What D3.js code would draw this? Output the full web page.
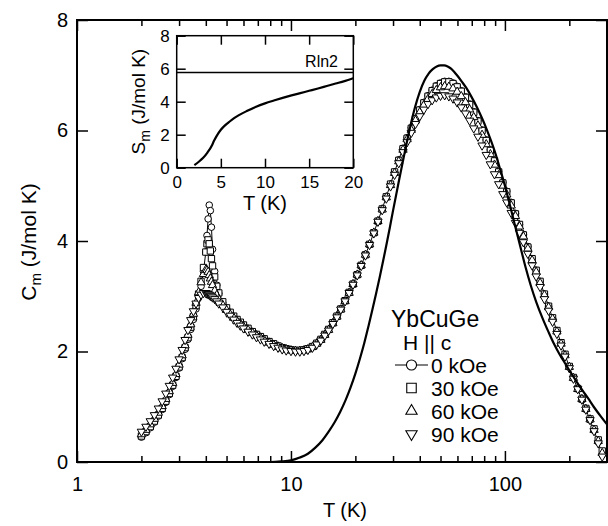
<!DOCTYPE html>
<html><head><meta charset="utf-8">
<script src="https://cdn.jsdelivr.net/npm/d3@7"></script>
<style>
body{margin:0;background:#fff}
svg{display:block}
text{font-family:"Liberation Sans",Arial,Helvetica,sans-serif;fill:#000}
</style></head><body>
<svg id="chart" width="608" height="526"></svg>
<script>
// ---------- data ----------
const T = [2.0,2.1,2.2,2.3,2.4,2.5,2.6,2.7,2.8,2.9,3.0,3.1,3.2,3.3,3.4,3.5,3.6,3.7,3.8,3.9,4.0,4.05,4.1,4.15,4.2,4.25,4.3,4.4,4.5,4.6,4.8,5.0,5.2,5.4,5.6,5.8,6.0,6.3,6.6,6.9,7.2,7.5,7.9,8.3,8.7,9.1,9.5,10,10.5,11,11.5,12,
12.6,13.2,13.8,14.4,15,15.7,16.4,17.1,17.9,18.7,19.5,20.4,21.3,22.3,23.3,24.4,25.5,26.7,27.9,29.2,30.5,31.9,33.4,34.9,36.5,38.2,40,41.8,43.7,45.7,47.8,50,52.3,54.7,57.2,59.8,62.5,65.4,68.4,71.5,74.8,78.2,81.8,85.5,89.4,93.5,97.8,102,107,112,117,122,128,134,140,146,153,160,167,175,183,191,200,209,219,229,239,250,261,273,285];

const C0kOe = [0.45,0.53,0.62,0.72,0.83,0.95,1.08,1.22,1.37,1.53,1.70,1.87,2.04,2.22,2.40,2.58,2.77,2.97,3.18,3.45,3.80,4.10,4.40,4.65,4.55,4.25,3.85,3.45,3.20,3.05,2.88,2.78,2.70,2.63,2.57,2.52,2.48,2.42,2.36,2.31,2.27,2.23,2.18,2.14,2.10,2.07,2.05,2.03,2.02,2.02,2.03,2.05,
2.09,2.15,2.22,2.31,2.40,2.52,2.64,2.77,2.92,3.07,3.22,3.39,3.56,3.75,3.94,4.15,4.36,4.58,4.80,5.03,5.25,5.47,5.68,5.87,6.05,6.22,6.38,6.51,6.63,6.73,6.81,6.86,6.89,6.89,6.86,6.80,6.72,6.61,6.48,6.34,6.18,6.01,5.83,5.65,5.46,5.26,5.06,4.90,4.70,4.50,4.30,4.12,3.90,3.68,3.47,3.27,3.04,2.82,2.60,2.37,2.15,1.94,1.72,1.52,1.32,1.13,0.95,0.76,0.57,0.36,0.13];

const C30kOe = [0.47,0.55,0.64,0.74,0.85,0.97,1.10,1.24,1.39,1.55,1.72,1.89,2.07,2.25,2.44,2.63,2.83,3.04,3.27,3.52,3.80,3.95,4.02,3.95,3.82,3.68,3.55,3.35,3.18,3.06,2.90,2.79,2.71,2.64,2.58,2.53,2.48,2.42,2.36,2.31,2.27,2.23,2.18,2.14,2.10,2.07,2.05,2.03,2.02,2.02,2.03,2.05,
2.09,2.15,2.22,2.31,2.40,2.52,2.64,2.77,2.92,3.07,3.22,3.39,3.56,3.75,3.94,4.15,4.36,4.58,4.80,5.03,5.25,5.46,5.67,5.86,6.04,6.21,6.37,6.50,6.62,6.72,6.80,6.85,6.88,6.88,6.85,6.79,6.71,6.60,6.47,6.33,6.17,6.00,5.82,5.64,5.45,5.25,5.05,4.89,4.69,4.49,4.30,4.11,3.89,3.68,3.47,3.27,3.04,2.82,2.61,2.38,2.16,1.95,1.73,1.53,1.33,1.14,0.97,0.78,0.60,0.40,0.20];

const C60kOe = [0.50,0.58,0.68,0.78,0.89,1.01,1.14,1.28,1.43,1.59,1.76,1.93,2.11,2.30,2.49,2.68,2.88,3.07,3.25,3.40,3.48,3.47,3.44,3.38,3.32,3.26,3.20,3.10,3.02,2.95,2.84,2.75,2.67,2.61,2.55,2.50,2.45,2.39,2.34,2.29,2.25,2.21,2.16,2.12,2.09,2.06,2.04,2.02,2.01,2.01,2.02,2.04,
2.08,2.14,2.21,2.30,2.39,2.51,2.63,2.76,2.91,3.06,3.22,3.39,3.56,3.75,3.94,4.15,4.36,4.57,4.79,5.01,5.23,5.44,5.65,5.84,6.01,6.18,6.33,6.46,6.57,6.66,6.73,6.78,6.80,6.79,6.76,6.70,6.62,6.51,6.38,6.24,6.09,5.92,5.75,5.57,5.38,5.19,5.00,4.84,4.64,4.45,4.26,4.08,3.86,3.65,3.44,3.24,3.02,2.80,2.59,2.36,2.14,1.93,1.72,1.52,1.32,1.14,0.96,0.77,0.58,0.38,0.16];

const C90kOe = [0.55,0.64,0.74,0.85,0.97,1.10,1.24,1.38,1.53,1.69,1.86,2.03,2.21,2.39,2.57,2.73,2.87,2.97,3.03,3.06,3.06,3.05,3.04,3.03,3.01,3.00,2.98,2.95,2.91,2.87,2.80,2.72,2.65,2.58,2.52,2.47,2.42,2.36,2.31,2.26,2.22,2.18,2.14,2.10,2.07,2.04,2.02,2.01,2.00,2.00,2.01,2.03,
2.07,2.13,2.20,2.29,2.38,2.50,2.62,2.76,2.91,3.06,3.21,3.38,3.55,3.74,3.93,4.14,4.35,4.56,4.77,4.99,5.20,5.41,5.61,5.79,5.96,6.12,6.26,6.38,6.48,6.55,6.60,6.63,6.64,6.62,6.58,6.51,6.42,6.31,6.18,6.04,5.89,5.73,5.56,5.39,5.21,5.03,4.85,4.70,4.51,4.33,4.15,3.98,3.77,3.56,3.36,3.17,2.95,2.74,2.54,2.32,2.11,1.91,1.70,1.51,1.32,1.13,0.95,0.76,0.56,0.34,0.10];

// calculated CEF (Schottky) curve
const Tcalc = [5,7,8,9,10,11,12,13,14,15,16,17,18,19,20,21,22,23,24,25,26,27,28,29,30,32,34,36,38,40,42,44,46,48,50,52,54,56,58,60,63,66,70,74,78,82,86,90,95,100,106,112,118,125,132,140,150,160,170,180,190,200,215,230,245,260,280,300];
const Ccalc = [0,0,0,0.01,0.03,0.08,0.15,0.26,0.39,0.55,0.72,0.91,1.12,1.35,1.6,1.87,2.15,2.45,2.75,3.05,3.35,3.65,3.95,4.25,4.55,5.1,5.6,6.05,6.42,6.7,6.9,7.03,7.11,7.16,7.18,7.18,7.16,7.12,7.06,6.99,6.88,6.77,6.6,6.42,6.23,6.03,5.82,5.6,5.3,5.0,4.62,4.25,3.9,3.52,3.2,2.9,2.6,2.35,2.13,1.95,1.8,1.66,1.47,1.3,1.15,1.0,0.83,0.68];

// inset entropy
const Tinset = [2,2.5,3,3.5,4,4.2,4.5,5,5.5,6,6.5,7,8,9,10,11,12,13,14,15,16,17,18,19,20];
const Sinset = [0.16,0.36,0.6,0.93,1.36,1.6,1.9,2.3,2.58,2.8,3.0,3.17,3.45,3.7,3.9,4.07,4.23,4.38,4.52,4.66,4.8,4.95,5.1,5.25,5.42];
const Rln2 = 5.763;

const xMajor = [1,10,100];
const xMinor = [2,3,4,5,6,7,8,9,20,30,40,50,60,70,80,90,200];
const yMajor = [0,2,4,6,8];
const insetXTicks = [0,5,10,15,20];
const insetYTicks = [0,2,4,6,8];
const seriesLabels = ["0 kOe","30 kOe","60 kOe","90 kOe"];

// ---------- drawing ----------
const svg = d3.select("#chart");
const M = {left:77, right:607, top:20, bottom:462};
const x = d3.scaleLog().domain([1,300]).range([M.left, M.right]);
const y = d3.scaleLinear().domain([0,8]).range([M.bottom, M.top]);

function styleAxis(g, fs){
  g.select(".domain").remove();
  g.selectAll(".tick line").attr("stroke","#000").attr("stroke-width",1.5);
  g.selectAll(".tick text").attr("font-size",fs).attr("fill","#000")
    .attr("font-family",'"Liberation Sans",Arial,sans-serif');
}

// main axes
svg.append("g").attr("transform",`translate(0,${M.bottom})`)
  .call(d3.axisBottom(x).tickValues(xMajor).tickSize(-11).tickSizeOuter(0).tickPadding(15).tickFormat(d3.format("d")))
  .call(g=>styleAxis(g,20));
svg.append("g").attr("transform",`translate(0,${M.bottom})`)
  .call(d3.axisBottom(x).tickValues(xMinor).tickSize(-6).tickSizeOuter(0).tickFormat(""))
  .call(g=>styleAxis(g,20));
svg.append("g").attr("transform",`translate(0,${M.top})`)
  .call(d3.axisTop(x).tickValues(xMajor).tickSize(-11).tickSizeOuter(0).tickFormat(""))
  .call(g=>styleAxis(g,20));
svg.append("g").attr("transform",`translate(0,${M.top})`)
  .call(d3.axisTop(x).tickValues(xMinor).tickSize(-6).tickSizeOuter(0).tickFormat(""))
  .call(g=>styleAxis(g,20));
svg.append("g").attr("transform",`translate(${M.left},0)`)
  .call(d3.axisLeft(y).tickValues(yMajor).tickSize(-11).tickSizeOuter(0).tickPadding(9).tickFormat(d3.format("d")))
  .call(g=>styleAxis(g,20));
svg.append("g").attr("transform",`translate(${M.right},0)`)
  .call(d3.axisRight(y).tickValues(yMajor).tickSize(-11).tickSizeOuter(0).tickFormat(""))
  .call(g=>styleAxis(g,20));

svg.append("rect").attr("x",M.left).attr("y",M.top)
  .attr("width",M.right-M.left).attr("height",M.bottom-M.top)
  .attr("fill","none").attr("stroke","#000").attr("stroke-width",2);

// axis titles
svg.append("text").attr("x",345).attr("y",517).attr("text-anchor","middle")
  .attr("font-size",20).text("T (K)");
const yt = svg.append("text").attr("transform","translate(36,242) rotate(-90)")
  .attr("text-anchor","middle").attr("font-size",21);
yt.append("tspan").text("C");
yt.append("tspan").attr("font-size",15).attr("dy",5).text("m");
yt.append("tspan").attr("dy",-5).text(" (J/mol K)");

// series
const series = [
  {vals:C0kOe, sym:d3.symbolCircle, size:34, rot:0, line:true},
  {vals:C30kOe, sym:d3.symbolSquare, size:40, rot:0},
  {vals:C60kOe, sym:d3.symbolTriangle, size:30, rot:0},
  {vals:C90kOe, sym:d3.symbolTriangle, size:30, rot:180}
];
const lineLin = d3.line().x(d=>x(d.T)).y(d=>y(d.C));
series.forEach(s=>{
  const data = T.map((t,i)=>({T:t, C:s.vals[i]}));
  if(s.line){
    svg.append("path").datum(data).attr("d",lineLin)
      .attr("fill","none").attr("stroke","#000").attr("stroke-width",1);
  }
  svg.append("g").selectAll("path").data(data).join("path")
    .attr("d", d3.symbol(s.sym, s.size))
    .attr("transform", d=>`translate(${x(d.T)},${y(d.C)}) rotate(${s.rot})`)
    .attr("fill","#fff").attr("stroke","#000").attr("stroke-width",1);
});

// calculated curve
const calc = Tcalc.map((t,i)=>({T:t, C:Ccalc[i]}));
svg.append("path").datum(calc)
  .attr("d", d3.line().x(d=>x(d.T)).y(d=>y(d.C)).curve(d3.curveMonotoneX))
  .attr("fill","none").attr("stroke","#000").attr("stroke-width",2.2);

// legend
svg.append("text").attr("x",391).attr("y",327).attr("font-size",23).text("YbCuGe");
svg.append("text").attr("x",403).attr("y",350).attr("font-size",21).text("H || c");
const legY = [365,388,411,434];
const legSym = [
  {sym:d3.symbolCircle,size:80,rot:0},
  {sym:d3.symbolSquare,size:90,rot:0},
  {sym:d3.symbolTriangle,size:55,rot:0},
  {sym:d3.symbolTriangle,size:55,rot:180}
];
svg.append("line").attr("x1",395).attr("x2",428).attr("y1",legY[0]).attr("y2",legY[0])
  .attr("stroke","#000").attr("stroke-width",1.2);
legSym.forEach((s,i)=>{
  svg.append("path").attr("d",d3.symbol(s.sym,s.size))
    .attr("transform",`translate(411.5,${legY[i]}) rotate(${s.rot})`)
    .attr("fill","#fff").attr("stroke","#000").attr("stroke-width",1.1);
  svg.append("text").attr("x",431).attr("y",legY[i]+7.5).attr("font-size",21).text(seriesLabels[i]);
});

// ---------- inset ----------
const I = {left:176.7, right:353.3, top:35.7, bottom:167.7};
const xi = d3.scaleLinear().domain([0,20]).range([I.left,I.right]);
const yi = d3.scaleLinear().domain([0,8]).range([I.bottom,I.top]);

svg.append("rect").attr("x",I.left).attr("y",I.top)
  .attr("width",I.right-I.left).attr("height",I.bottom-I.top)
  .attr("fill","#fff").attr("stroke","none");

svg.append("g").attr("transform",`translate(0,${I.bottom})`)
  .call(d3.axisBottom(xi).tickValues(insetXTicks).tickSize(-9).tickSizeOuter(0).tickPadding(8))
  .call(g=>styleAxis(g,17));
svg.append("g").attr("transform",`translate(0,${I.top})`)
  .call(d3.axisTop(xi).tickValues(insetXTicks).tickSize(-9).tickSizeOuter(0).tickFormat(""))
  .call(g=>styleAxis(g,17));
svg.append("g").attr("transform",`translate(${I.left},0)`)
  .call(d3.axisLeft(yi).tickValues(insetYTicks).tickSize(-9).tickSizeOuter(0).tickPadding(7))
  .call(g=>styleAxis(g,17));
svg.append("g").attr("transform",`translate(${I.right},0)`)
  .call(d3.axisRight(yi).tickValues(insetYTicks).tickSize(-9).tickSizeOuter(0).tickFormat(""))
  .call(g=>styleAxis(g,17));

svg.append("rect").attr("x",I.left).attr("y",I.top)
  .attr("width",I.right-I.left).attr("height",I.bottom-I.top)
  .attr("fill","none").attr("stroke","#000").attr("stroke-width",1.5);

svg.append("line").attr("x1",xi(0)).attr("x2",xi(20)).attr("y1",yi(Rln2)).attr("y2",yi(Rln2))
  .attr("stroke","#000").attr("stroke-width",1.5);
svg.append("text").attr("x",338).attr("y",67).attr("text-anchor","end").attr("font-size",16).text("Rln2");

const sdata = Tinset.map((t,i)=>({T:t, S:Sinset[i]}));
svg.append("path").datum(sdata)
  .attr("d", d3.line().x(d=>xi(d.T)).y(d=>yi(d.S)).curve(d3.curveMonotoneX))
  .attr("fill","none").attr("stroke","#000").attr("stroke-width",2.2);

svg.append("text").attr("x",265).attr("y",210).attr("text-anchor","middle").attr("font-size",20).text("T (K)");
const yit = svg.append("text").attr("transform",`translate(145,${(I.top+I.bottom)/2}) rotate(-90)`)
  .attr("text-anchor","middle").attr("font-size",19);
yit.append("tspan").text("S");
yit.append("tspan").attr("font-size",14).attr("dy",5).text("m");
yit.append("tspan").attr("dy",-5).text(" (J/mol K)");
</script>
</body></html>
